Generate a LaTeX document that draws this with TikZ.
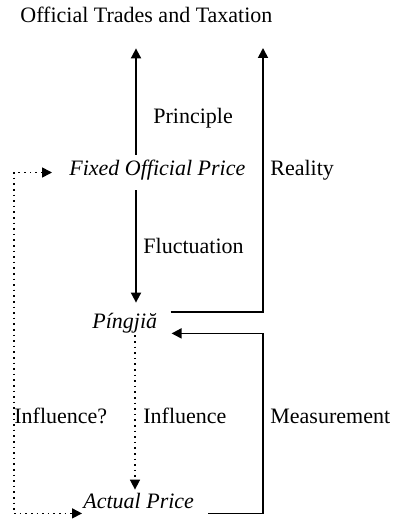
\documentclass[tikz,border=0pt]{standalone}
\usepackage{fontspec}
\setmainfont{Liberation Serif}
\usetikzlibrary{arrows.meta,positioning,calc}

\begin{document}
\begin{tikzpicture}[x=0.5pt, y=-0.5pt,
  every node/.style={inner sep=0pt, anchor=base west, text height=8pt, text depth=2.5pt, font=\fontsize{11}{13}\selectfont},
  term/.style={font=\fontsize{11}{13}\selectfont\itshape},
  arr/.style={line width=0.9pt, -{Triangle[length=5pt,width=5pt]}},
  dotarr/.style={line width=0.8pt, dotted, -{Triangle[length=5pt,width=5pt]}}]
  \useasboundingbox (0,0) rectangle (398,519);

  % terms
  \node (title) at (20,23) {Official Trades and Taxation};
  \node[term] (fixed) at (69,176) {Fixed Official Price};
  \node[term] (pingjia) at (92,328) {Píngjiă};
  \node[term] (actual) at (83,508) {Actual Price};

  % labels
  \node (principle) at (153,124) {Principle};
  \node (reality) at (270,176) {Reality};
  \node (fluct) at (143,253) {Fluctuation};
  \node (influq) at (14,423) {Influence?};
  \node (influ) at (143,423) {Influence};
  \node (measure) at (270,423) {Measurement};

  % helper columns
  \coordinate (axis) at (136,0);
  \coordinate (rcol) at (263,48);
  \coordinate (lcol) at (14,400);

  \draw[arr, shorten <=2.5pt, shorten >=10pt] (fixed.north -| axis) -- (title.south -| axis);
  \draw[arr, shorten <=4.5pt, shorten >=4.5pt] (fixed.south -| axis) -- (pingjia.north -| axis);
  \draw[arr] ([xshift=6.5pt]pingjia.north east) -| (rcol);
  \draw[arr] ([xshift=7pt]actual.south east) -| (rcol |- pingjia.south) -- ([xshift=7pt]pingjia.south east);
  \draw[dotarr, shorten <=1pt, shorten >=1pt] ([xshift=-0.5pt]pingjia.south -| axis) -- ([xshift=-0.5pt]actual.north -| axis);
  \draw[dotarr, {Triangle[length=5pt,width=5pt]}-{Triangle[length=5pt,width=5pt]}, shorten <=8.5pt, shorten >=0.5pt] ([yshift=-1pt]fixed.west) -| (lcol) |- (actual.south west);
\end{tikzpicture}
\end{document}
